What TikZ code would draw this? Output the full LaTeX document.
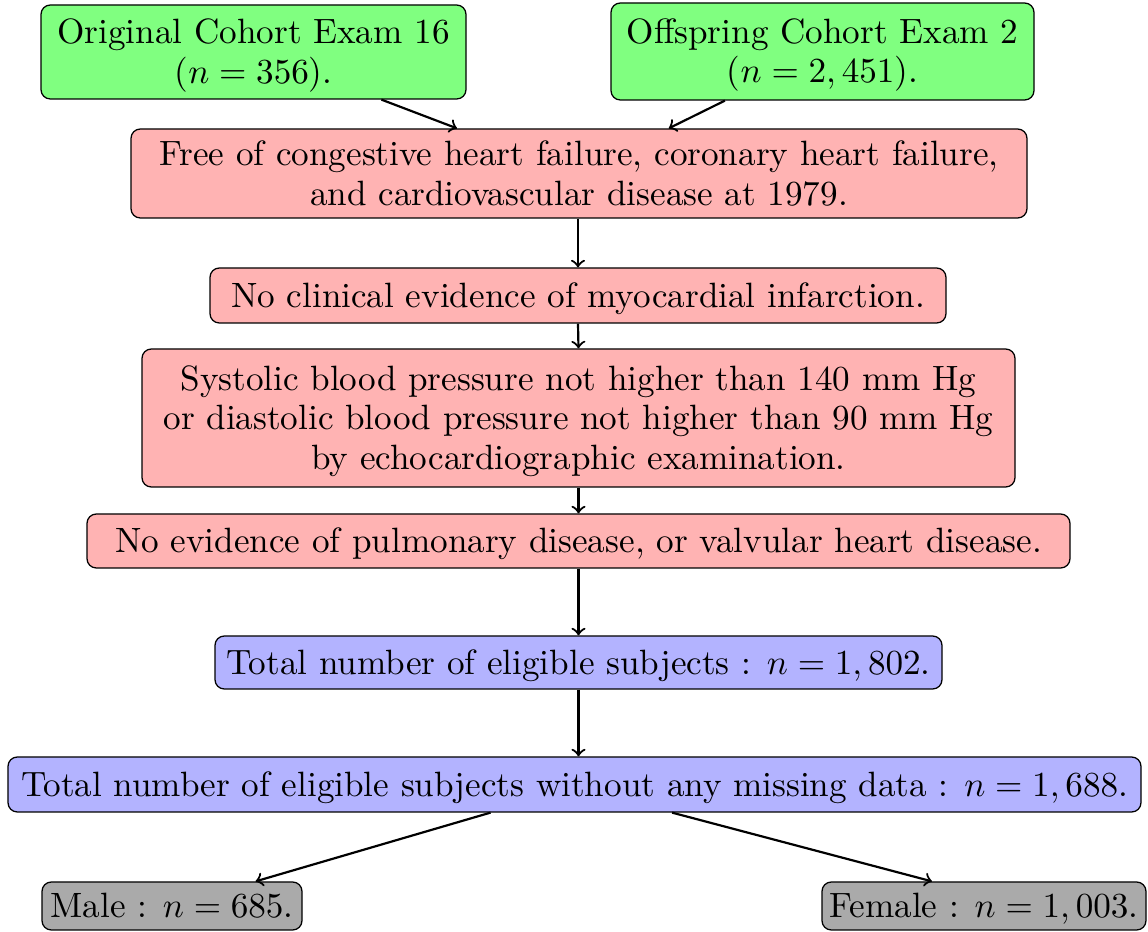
\documentclass[tikz,border=0pt]{standalone}
\usepackage{graphicx}
\usetikzlibrary{calc}
\newcommand\btxtinner[1]{\scalebox{1.125}{\renewcommand\arraystretch{0.94}\begin{tabular}{@{}c@{}}#1\end{tabular}}}
\newsavebox\btxtbox
\newcommand\btxt[1]{\sbox\btxtbox{\btxtinner{#1}}\raisebox{-1.2pt}[\ht\btxtbox][\dp\btxtbox]{\usebox\btxtbox}}
\begin{document}
\begin{tikzpicture}[x=0.32pt,y=-0.32pt,
  box/.style 2 args={draw, rounded corners=3pt, align=center, inner sep=0pt, minimum width=#1*0.32pt, minimum height=#2*0.32pt},
  arr/.style={->, line width=0.7pt}]
\useasboundingbox (0,0) rectangle (1148,932);
\definecolor{gfill}{HTML}{80FF80}
\definecolor{rfill}{HTML}{FFB3B3}
\definecolor{bfill}{HTML}{B3B3FF}
\definecolor{kfill}{HTML}{AAAAAA}
\node[box={425}{94}, fill=gfill] (orig) at (253.5,52) {\btxt{Original Cohort Exam 16\\($n=356$).}};
\node[box={423}{97}, fill=gfill] (offs) at (822.5,51.5) {\btxt{Offspring Cohort Exam 2\\($n=2,451$).}};
\node[box={896}{89}, fill=rfill] (free) at (579,173.5) {\btxt{Free of congestive heart failure, coronary heart failure,\\and cardiovascular disease at 1979.}};
\node[box={736}{55}, fill=rfill] (clin) at (578,295.5) {\btxt{No clinical evidence of myocardial infarction.}};
\node[box={873}{138}, fill=rfill] (sys) at (578.5,418) {\btxt{Systolic blood pressure not higher than 140 mm Hg\\or diastolic blood pressure not higher than 90 mm Hg\\by echocardiographic examination.}};
\node[box={983}{54}, fill=rfill] (pulm) at (578.5,541) {\btxt{No evidence of pulmonary disease, or valvular heart disease.}};
\node[box={727}{53}, fill=bfill] (tot) at (578.5,662.5) {\btxt{Total number of eligible subjects : $n=1,802$.}};
\node[box={1133}{55}, fill=bfill] (miss) at (574.5,784.5) {\btxt{Total number of eligible subjects without any missing data : $n=1,688$.}};
\node[box={260}{48}, fill=kfill] (male) at (172,906) {\btxt{Male : $n=685$.}};
\node[box={324}{48}, fill=kfill] (fem) at (984,906) {\btxt{Female : $n=1,003$.}};
\draw[arr] ($(orig.south west)!0.80!(orig.south east)$) -- ($(free.north west)!0.364!(free.north east)$);
\draw[arr] ($(offs.south west)!0.27!(offs.south east)$) -- ($(free.north west)!0.60!(free.north east)$);
\draw[arr] (free.south -| clin.north) -- (clin.north);
\draw[arr] (clin.south) -- (sys.north);
\draw[arr] (sys.south) -- (pulm.north);
\draw[arr] (pulm.south) -- (tot.north);
\draw[arr] (tot.south) -- (tot.south |- miss.north);
\draw[arr] ($(miss.south west)!0.426!(miss.south east)$) -- ($(male.north west)!0.82!(male.north east)$);
\draw[arr] ($(miss.south west)!0.586!(miss.south east)$) -- ($(fem.north west)!0.34!(fem.north east)$);
\end{tikzpicture}
\end{document}
